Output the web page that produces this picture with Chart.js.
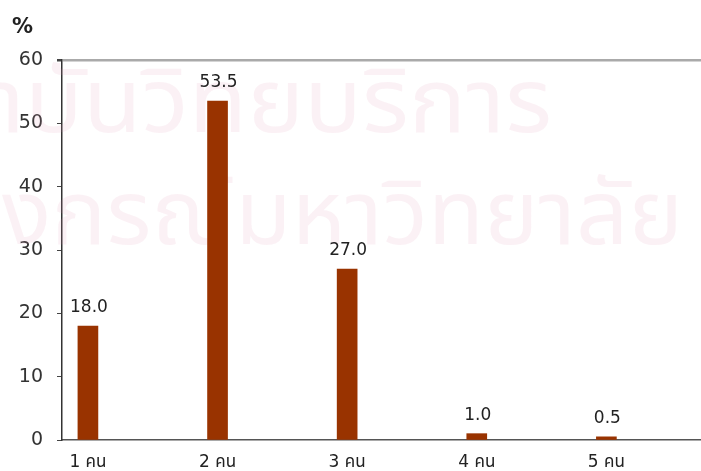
<!DOCTYPE html>
<html>
<head>
<meta charset="utf-8">
<script src="https://cdn.jsdelivr.net/npm/chart.js@4"></script>
<style>
  body { margin: 0; background: #fff; }
  #wrap { width: 701px; height: 471px; position: relative; }
</style>
</head>
<body>
<div id="wrap"><canvas id="chart"></canvas></div>
<script>
// data
const categories = ['1 คน', '2 คน', '3 คน', '4 คน', '5 คน'];
const values = [18.0, 53.5, 27.0, 1.0, 0.5];
const yTicks = [0, 10, 20, 30, 40, 50, 60];
const watermark = ['สถาบันวิทยบริการ', 'จุฬาลงกรณ์มหาวิทยาลัย'];

const barColor = '#993300';
const textFont = "'DejaVu Sans', 'Noto Sans Thai', sans-serif";

// faint pink watermark behind the bars
const watermarkPlugin = {
  id: 'watermark',
  beforeDatasetsDraw(chart) {
    const ctx = chart.ctx;
    ctx.save();
    ctx.fillStyle = 'rgba(225, 150, 180, 0.13)';
    ctx.textBaseline = 'alphabetic';
    ctx.textAlign = 'right';
    ctx.font = "90px 'Noto Sans Thai', 'Noto Sans', sans-serif";
    // line 1: visible part "บันวิทยบริการ" spans about x 25..552
    let w = ctx.measureText('บันวิทยบริการ').width;
    let sx = 527 / w;
    ctx.save();
    ctx.scale(sx, 1);
    ctx.fillText(watermark[0], 552 / sx, 132);
    ctx.restore();
    // line 2: visible part "งกรณ์มหาวิทยาลัย" spans about x 2..683
    w = ctx.measureText('งกรณ์มหาวิทยาลัย').width;
    sx = 681 / w;
    ctx.save();
    ctx.scale(sx, 1);
    ctx.fillText(watermark[1], 683 / sx, 244);
    ctx.restore();
    ctx.restore();
  }
};

// value labels above each bar
const valueLabels = {
  id: 'valueLabels',
  afterDatasetsDraw(chart) {
    const ctx = chart.ctx;
    const meta = chart.getDatasetMeta(0);
    ctx.save();
    ctx.font = '17px ' + textFont;
    ctx.fillStyle = '#222';
    ctx.textAlign = 'center';
    ctx.textBaseline = 'bottom';
    meta.data.forEach((bar, i) => {
      ctx.fillText(values[i].toFixed(1), bar.x + 1, bar.y - 10);
    });
    ctx.restore();
  }
};

new Chart(document.getElementById('chart'), {
  type: 'bar',
  data: {
    datasets: [{
      data: values.map((v, i) => ({ x: i + 1, y: v })),
      backgroundColor: barColor,
      borderWidth: 0,
      barThickness: 20
    }]
  },
  options: {
    responsive: true,
    maintainAspectRatio: false,
    animation: false,
    layout: { padding: { left: 12, right: 0, top: 0, bottom: 0 } },
    plugins: {
      legend: { display: false },
      tooltip: { enabled: false },
      title: {
        display: true,
        text: '%',
        align: 'start',
        color: '#222',
        font: { family: textFont, size: 21, weight: 'bold' },
        padding: { top: 15, bottom: 19.8 }
      }
    },
    scales: {
      x: {
        type: 'linear',
        offset: false,
        min: 0.8,
        max: 5.73,
        afterBuildTicks: s => { s.ticks = categories.map((c, i) => ({ value: i + 1 })); },
        afterFit: s => { s.height = 31; },
        grid: { offset: false, drawOnChartArea: false, drawTicks: false, color: 'transparent' },
        border: { color: '#555', width: 1.5 },
        ticks: {
          autoSkip: false,
          maxRotation: 0,
          padding: 12,
          color: '#222',
          font: { family: textFont, size: 17 },
          callback: v => categories[v - 1]
        }
      },
      y: {
        min: 0,
        max: 60,
        afterBuildTicks: s => { s.ticks = yTicks.map(v => ({ value: v })); },
        afterFit: s => { s.width = 50; },
        grid: {
          drawOnChartArea: true,
          tickLength: 5,
          tickColor: '#444',
          color: c => (c.tick && c.tick.value === 60 ? '#aaa' : 'transparent'),
          lineWidth: c => (c.tick && c.tick.value === 60 ? 2.5 : 1)
        },
        border: { color: '#333', width: 1.5 },
        ticks: {
          padding: 14,
          color: '#333',
          font: { family: textFont, size: 19 }
        }
      }
    }
  },
  plugins: [watermarkPlugin, valueLabels]
});
</script>
</body>
</html>
